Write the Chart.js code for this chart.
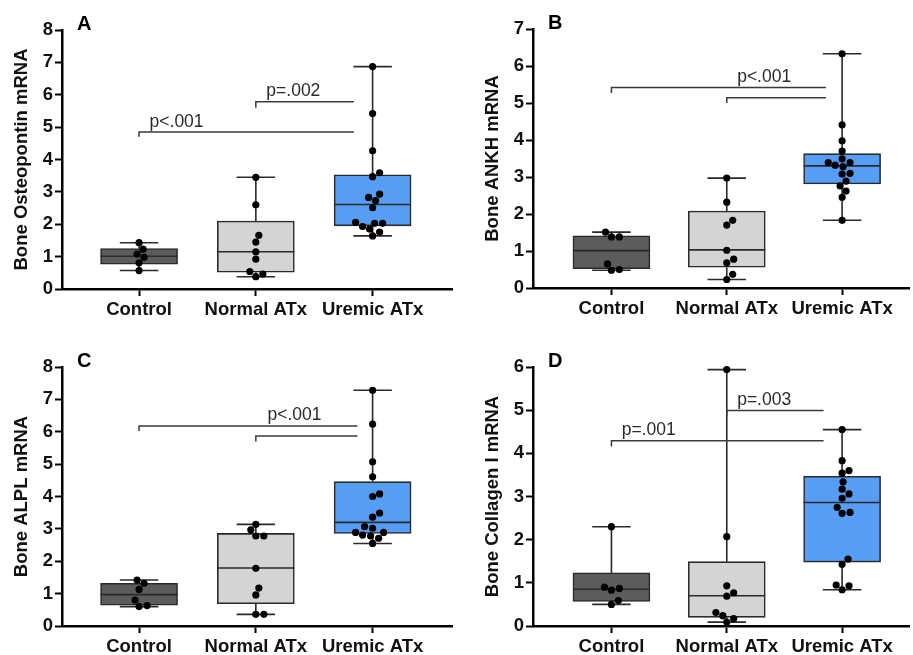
<!DOCTYPE html>
<html>
<head>
<meta charset="utf-8">
<script src="https://cdn.jsdelivr.net/npm/chart.js@4"></script>
<style>
  body { margin: 0; background: #fff; }
  .panel { position: absolute; }
</style>
</head>
<body>
<div class="panel" style="left:0;top:0;width:460px;height:330px"><canvas id="chartA"></canvas></div>
<div class="panel" style="left:460px;top:0;width:453px;height:330px"><canvas id="chartB"></canvas></div>
<div class="panel" style="left:0;top:330px;width:460px;height:325px"><canvas id="chartC"></canvas></div>
<div class="panel" style="left:460px;top:330px;width:453px;height:325px"><canvas id="chartD"></canvas></div>
<script>
const groups = ["Control", "Normal ATx", "Uremic ATx"];
const boxColors = ["#5c5c5c", "#d4d4d4", "#559df5"];

// A - osteopontin
const opnControl = [1.43, 1.23, 1.08, 0.98, 0.81, 0.57];
const opnNormal = [3.45, 2.60, 1.66, 1.45, 1.15, 0.92, 0.54, 0.46, 0.38];
const opnUremic = [6.87, 5.42, 4.27, 3.59, 3.47, 2.93, 2.83, 2.73, 2.51, 2.06, 2.03, 2.03, 1.93, 1.85, 1.76, 1.64];
const opnQ1 = [0.77, 0.52, 1.95];
const opnMedian = [1.01, 1.15, 2.61];
const opnQ3 = [1.25, 2.10, 3.53];

// B - ANKH
const ankhControl = [1.51, 1.38, 1.38, 0.65, 0.50, 0.48];
const ankhNormal = [2.97, 2.32, 1.83, 1.70, 1.02, 0.78, 0.68, 0.37, 0.23];
const ankhUremic = [6.33, 4.41, 3.98, 3.70, 3.49, 3.39, 3.39, 3.32, 3.28, 3.10, 3.08, 2.89, 2.76, 2.62, 2.45, 1.83];
const ankhQ1 = [0.52, 0.56, 2.81];
const ankhMedian = [1.01, 1.03, 3.30];
const ankhQ3 = [1.41, 2.08, 3.63];

// C - ALPL
const alplControl = [1.42, 1.32, 1.13, 0.80, 0.63, 0.60];
const alplNormal = [3.14, 2.97, 2.78, 2.78, 1.78, 1.17, 0.96, 0.36, 0.36];
const alplUremic = [7.28, 6.24, 5.07, 4.61, 4.08, 4.00, 3.49, 3.36, 3.07, 3.02, 2.89, 2.89, 2.81, 2.78, 2.71, 2.55];
const alplQ1 = [0.64, 0.69, 2.86];
const alplMedian = [0.97, 1.79, 3.20];
const alplQ3 = [1.32, 2.86, 4.46];

// D - collagen I
const colControl = [2.30, 0.90, 0.87, 0.83, 0.59, 0.50];
const colNormal = [5.94, 2.07, 0.93, 0.77, 0.69, 0.31, 0.24, 0.17, 0.09];
const colUremic = [4.55, 3.83, 3.60, 3.54, 3.34, 3.17, 3.06, 2.96, 2.75, 2.63, 2.61, 1.55, 1.43, 0.95, 0.93, 0.84];
const colQ1 = [0.57, 0.20, 1.48];
const colMedian = [0.85, 0.70, 2.86];
const colQ3 = [1.23, 1.49, 3.47];

// significance brackets: left group, right end (x units), line y, left tick end y
const opnBrackets = [[0, 1.84, 4.85, 4.70], [1, 1.84, 5.78, 5.60]];
const ankhBrackets = [[0, 1.86, 5.42, 5.27], [1, 1.86, 5.14, 5.00]];
const alplBrackets = [[0, 1.87, 6.18, 6.02], [1, 1.87, 5.87, 5.70]];
const colBrackets = [[1, 1.84, 4.99, 4.86], [0, 1.84, 4.29, 4.16]];
// p labels: text, x, y
const opnP = [["p<.001", 0.09, 5.16], ["p=.002", 1.09, 6.12]];
const ankhP = [["p<.001", 1.09, 5.70]];
const alplP = [["p<.001", 1.10, 6.51]];
const colP = [["p=.003", 1.09, 5.23], ["p=.001", 0.09, 4.53]];

Chart.defaults.font.family = '"Liberation Sans", Arial, sans-serif';
Chart.defaults.color = "#111";

const FONT_BOLD = { size: 18.5, weight: "bold" };
const BOX_W = 77;
const X_PX = 116.7;

// simple beeswarm so dots sit side by side like the original
function swarm(values, center, yPx) {
  const dia = 7.4;
  const placed = [];
  const out = [];
  values.slice().sort((a, b) => a - b).forEach(v => {
    for (let k = 0; k < 200; k++) {
      const off = k === 0 ? 0 : (k % 2 ? 1 : -1) * Math.ceil(k / 2);
      const clash = placed.some(q => Math.hypot(q.dx - off, (q.v - v) * yPx) < dia);
      if (!clash) {
        placed.push({ dx: off, v });
        out.push({ x: center + off / X_PX, y: v });
        break;
      }
    }
  });
  return out;
}

function makeChart(id, p) {
  const yPx = 259 / p.ymax;
  const points = [];
  p.pts.forEach((vals, i) => points.push(...swarm(vals, i, yPx)));

  const parts = {
    id: "boxParts",
    afterDatasetDraw(chart, args) {
      if (args.index !== 0) return;
      const { ctx, scales: { x, y } } = chart;
      ctx.save();
      ctx.strokeStyle = "#2a2a2a";
      ctx.lineWidth = 1.6;
      p.pts.forEach((vals, i) => {
        const cx = x.getPixelForValue(i);
        const hi = y.getPixelForValue(Math.max(...vals));
        const lo = y.getPixelForValue(Math.min(...vals));
        const cap = BOX_W / 4;
        ctx.beginPath();
        ctx.moveTo(cx, hi); ctx.lineTo(cx, y.getPixelForValue(p.q3[i]));
        ctx.moveTo(cx, y.getPixelForValue(p.q1[i])); ctx.lineTo(cx, lo);
        ctx.moveTo(cx - cap, hi); ctx.lineTo(cx + cap, hi);
        ctx.moveTo(cx - cap, lo); ctx.lineTo(cx + cap, lo);
        const ym = y.getPixelForValue(p.median[i]);
        ctx.moveTo(cx - BOX_W / 2, ym); ctx.lineTo(cx + BOX_W / 2, ym);
        ctx.stroke();
      });
      ctx.restore();
    },
    afterDraw(chart) {
      const { ctx, chartArea, scales: { x, y } } = chart;
      ctx.save();
      ctx.strokeStyle = "#3a3a3a";
      ctx.lineWidth = 1.5;
      p.brackets.forEach(b => {
        const x0 = x.getPixelForValue(b[0]);
        const x1 = x.getPixelForValue(b[1]);
        const yl = y.getPixelForValue(b[2]);
        ctx.beginPath();
        ctx.moveTo(x0, y.getPixelForValue(b[3]));
        ctx.lineTo(x0, yl);
        ctx.lineTo(x1, yl);
        ctx.stroke();
      });
      ctx.fillStyle = "#2a2a2a";
      ctx.font = '17.5px "Liberation Sans", Arial, sans-serif';
      ctx.textBaseline = "middle";
      ctx.textAlign = "left";
      p.labels.forEach(l => {
        ctx.fillText(l[0], x.getPixelForValue(l[1]), y.getPixelForValue(l[2]));
      });
      ctx.fillStyle = "#000";
      ctx.font = 'bold 20px "Liberation Sans", Arial, sans-serif';
      ctx.fillText(p.letter, chartArea.left + 15, chartArea.top - 6);
      ctx.restore();
    }
  };

  return new Chart(document.getElementById(id), {
    type: "bar",
    data: {
      datasets: [
        {
          type: "bar",
          data: p.q1.map((q, i) => ({ x: i, y: [q, p.q3[i]] })),
          backgroundColor: boxColors,
          borderColor: "#2a2a2a",
          borderWidth: 1.6,
          borderSkipped: false,
          barThickness: BOX_W,
          order: 2
        },
        {
          type: "scatter",
          data: points,
          backgroundColor: "#000",
          borderColor: "#000",
          pointRadius: 3.6,
          borderWidth: 0,
          clip: false,
          order: 1
        }
      ]
    },
    options: {
      responsive: true,
      maintainAspectRatio: false,
      animation: false,
      layout: { padding: { top: p.top, right: p.right, left: 0, bottom: 0 } },
      plugins: { legend: { display: false }, tooltip: { enabled: false } },
      scales: {
        x: {
          type: "linear",
          min: p.xmin,
          max: p.xmax,
          offset: false,
          afterBuildTicks: s => { s.ticks = [0, 1, 2].map(v => ({ value: v })); },
          afterFit: s => { s.height = p.xh; },
          ticks: {
            font: FONT_BOLD,
            color: "#111",
            padding: 3,
            autoSkip: false,
            maxRotation: 0,
            callback: v => groups[v]
          },
          grid: { offset: false, drawOnChartArea: false, drawTicks: true, tickLength: 7, tickWidth: 2, tickColor: "#000" },
          border: { display: true, width: 2.5, color: "#000" }
        },
        y: {
          min: 0,
          max: p.ymax,
          afterFit: s => { s.width = p.yw; },
          ticks: { stepSize: 1, font: FONT_BOLD, color: "#111", padding: 2 },
          grid: { drawOnChartArea: false, drawTicks: true, tickLength: 7, tickWidth: 2, tickColor: "#000" },
          border: { display: true, width: 2.5, color: "#000" },
          title: {
            display: true,
            text: p.title,
            font: FONT_BOLD,
            color: "#111",
            padding: { top: p.titlePad, bottom: 0 }
          }
        }
      }
    },
    plugins: [parts]
  });
}

makeChart("chartA", {
  letter: "A", title: "Bone Osteopontin mRNA", ymax: 8,
  pts: [opnControl, opnNormal, opnUremic], q1: opnQ1, median: opnMedian, q3: opnQ3,
  brackets: opnBrackets, labels: opnP,
  top: 30, right: 8, yw: 62, xh: 41, xmin: -0.66, xmax: 2.68, titlePad: 11
});
makeChart("chartB", {
  letter: "B", title: "Bone ANKH mRNA", ymax: 7,
  pts: [ankhControl, ankhNormal, ankhUremic], q1: ankhQ1, median: ankhMedian, q3: ankhQ3,
  brackets: ankhBrackets, labels: ankhP,
  top: 29, right: 0, yw: 73, xh: 42, xmin: -0.68, xmax: 2.58, titlePad: 22
});
makeChart("chartC", {
  letter: "C", title: "Bone ALPL mRNA", ymax: 8,
  pts: [alplControl, alplNormal, alplUremic], q1: alplQ1, median: alplMedian, q3: alplQ3,
  brackets: alplBrackets, labels: alplP,
  top: 37, right: 8, yw: 62, xh: 29, xmin: -0.66, xmax: 2.68, titlePad: 11
});
makeChart("chartD", {
  letter: "D", title: "Bone Collagen I mRNA", ymax: 6,
  pts: [colControl, colNormal, colUremic], q1: colQ1, median: colMedian, q3: colQ3,
  brackets: colBrackets, labels: colP,
  top: 37, right: 0, yw: 73, xh: 29, xmin: -0.68, xmax: 2.58, titlePad: 22
});
</script>
</body>
</html>
